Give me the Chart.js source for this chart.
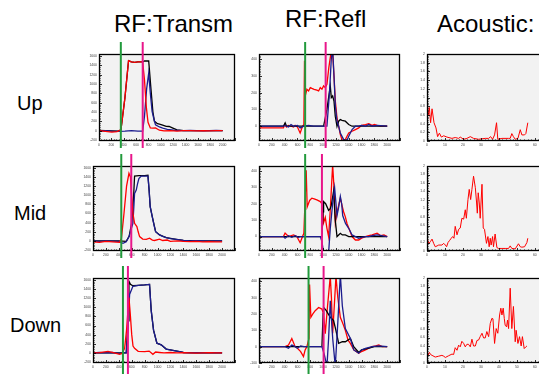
<!DOCTYPE html>
<html>
<head>
<meta charset="utf-8">
<script src="https://cdn.jsdelivr.net/npm/chart.js@4/dist/chart.umd.min.js"></script>
<style>
html,body{margin:0;padding:0;background:#fff;}
body{width:539px;height:374px;overflow:hidden;position:relative;font-family:"Liberation Sans",Arial,sans-serif;}
.t{position:absolute;white-space:nowrap;color:#000;line-height:24px;font-size:24px;}
.r{position:absolute;white-space:nowrap;color:#000;line-height:20px;font-size:20px;}
canvas{position:absolute;}
</style>
</head>
<body>
<div class="t" style="left:114px;top:12px;">RF:Transm</div>
<div class="t" style="left:285px;top:7px;">RF:Refl</div>
<div class="t" style="left:437px;top:12px;">Acoustic:</div>
<div class="r" style="left:17px;top:93px;">Up</div>
<div class="r" style="left:14px;top:203px;">Mid</div>
<div class="r" style="left:10px;top:315px;">Down</div>
<script>
// ---------- tick labels ----------
const rfXTicks = [0,200,400,600,800,1000,1200,1400,1600,1800,2000];
const transYTicks = [-200,0,200,400,600,800,1000,1200,1400,1600];
const reflYTicks = [-100,0,100,200,300,400];
const acXTicks = [0,10,20,30,40,50,60];
const acYTicks = [0,0.2,0.4,0.6,0.8,1,1.2,1.4,1.6,1.8,2];

// ---------- RF:Transm, Up ----------
const tUpRedX = [0,102,208,292,355,419,478,524,577,629,706,735,766,793,830,870,914,977,1051,1156,1262,1367,1473,1578,1684,1789,1894,2000];
const tUpRedY = [0,-15,-30,-20,20,700,1495,1470,1460,1470,1470,1100,500,180,60,57,60,10,-5,0,-10,0,0,-5,0,-5,0,0];
const tUpBlkX = [0,102,313,355,419,478,524,577,629,706,735,804,840,872,897,946,978,1030,1087,1135,1195,1262,1367,1578,1789,2000];
const tUpBlkY = [5,0,-10,20,700,1495,1470,1460,1470,1470,1490,1490,900,400,200,150,142,120,93,90,57,20,0,0,0,0];
const tUpNavX = [0,102,208,313,419,524,629,706,735,771,804,830,859,888,914,977,1032,1104,1209,1367,1473,1578,1684,1789,1894,2000];
const tUpNavY = [-15,0,-10,-15,-10,0,-10,-10,300,900,1231,800,413,250,128,80,57,30,10,0,5,0,-5,0,5,0];
// ---------- RF:Transm, Mid ----------
const tMidRedX = [0,100,200,300,412,440,480,520,557,580,593,619,644,680,700,722,770,825,876,920,954,1030,1080,1150,1200,1300,1400,1500,1600,1700,1800,1900,2000];
const tMidRedY = [-20,-30,-10,-20,-30,50,600,1200,1480,1400,1113,600,385,313,200,95,40,36,60,20,10,40,10,20,-10,0,-10,-15,-10,-20,-15,-20,-20];
const tMidBlkX = [0,200,400,515,560,600,630,644,711,800,851,870,886,918,970,1031,1134,1289,1400,1600,1800,2000];
const tMidBlkY = [0,0,0,-10,100,400,1000,1420,1430,1430,1440,1100,750,530,204,131,73,36,10,0,0,0];
const tMidNavX = [0,100,200,300,400,464,515,560,600,618,635,644,670,690,711,747,800,851,870,886,918,945,970,1031,1080,1134,1200,1289,1400,1500,1600,1700,1800,1900,2000];
const tMidNavY = [0,-10,0,-5,-10,-50,-20,100,300,385,800,1040,1113,1250,1367,1418,1420,1420,1100,750,530,350,204,131,100,73,50,36,10,0,5,0,-5,0,0];
// ---------- RF:Transm, Down ----------
const tDnRedX = [0,100,232,300,412,450,490,520,540,557,575,600,620,644,700,800,870,928,970,1031,1100,1200,1300,1400,1500,1600,1700,1800,1900,2000];
const tDnRedY = [0,5,35,10,-30,-10,100,500,900,1210,900,400,150,100,35,30,40,-30,20,10,0,10,0,5,0,-5,0,5,0,0];
const tDnBlkX = [0,200,400,515,545,557,580,618,700,800,876,902,938,990,1057,1134,1237,1340,1400,1600,1800,2000];
const tDnBlkY = [0,0,0,0,700,1566,1500,1470,1480,1490,1500,925,498,214,178,85,57,30,10,0,0,0];
const tDnNavX = [0,100,200,300,400,490,515,545,567,618,700,800,876,902,938,990,1057,1134,1237,1340,1400,1500,1600,1700,1800,1900,2000];
const tDnNavY = [0,10,0,10,-10,0,0,600,1281,1459,1480,1490,1500,925,498,214,178,85,57,30,10,0,5,0,0,5,0];

// ---------- RF:Refl, Up ----------
const rUpRedX = [0,100,200,300,381,400,430,460,500,540,564,600,642,679,700,710,721,747,773,800,825,860,903,930,956,982,1008,1034,1060,1090,1128,1149,1170,1191,1217,1243,1269,1295,1321,1347,1373,1400,1452,1504,1556,1600,1661,1713,1765,1800,1843,1900,2000];
const rUpRedY = [-10,-10,-10,-10,-10,10,-5,5,0,-5,5,-5,-40,0,10,390,180,220,210,230,225,220,215,210,230,220,240,230,250,350,450,440,300,150,50,0,-50,-80,-90,-80,-60,-40,-30,-20,-10,5,10,15,5,10,5,0,0];
const rUpBlkX = [0,200,381,408,430,600,800,1008,1034,1060,1086,1112,1128,1149,1170,1190,1217,1243,1269,1295,1347,1400,1452,1600,1800,2000];
const rUpBlkY = [0,0,0,20,0,0,0,0,50,100,170,240,170,180,150,60,0,30,40,35,30,10,0,0,0,0];
const rUpNavX = [0,100,200,300,381,407,460,500,540,600,642,700,773,850,930,1008,1060,1100,1128,1149,1170,1191,1217,1243,1269,1321,1373,1400,1452,1504,1556,1600,1661,1713,1765,1843,2000];
const rUpNavY = [0,0,0,0,0,5,-5,10,0,5,-10,0,5,0,0,0,0,200,400,460,300,120,30,0,-40,-80,-85,-60,-20,0,0,5,0,10,0,5,0];
// ---------- RF:Refl, Mid ----------
const rMidRedX = [0,100,200,300,381,407,460,538,590,642,679,700,736,752,790,825,860,903,956,982,1008,1034,1060,1086,1110,1149,1170,1191,1220,1269,1295,1321,1347,1373,1400,1452,1504,1556,1600,1661,1713,1765,1800,1843,1900,1950,2000];
const rMidRedY = [0,0,0,0,0,21,0,10,0,-38,0,20,404,181,220,234,230,223,213,200,85,117,50,0,150,436,300,85,150,234,190,150,120,80,53,0,-21,-21,-10,0,5,10,15,21,5,10,0];
const rMidBlkX = [0,200,400,600,800,982,1000,1008,1040,1086,1112,1128,1164,1190,1217,1243,1269,1300,1347,1400,1600,1800,2000];
const rMidBlkY = [0,0,0,0,0,0,150,213,200,160,170,190,277,100,0,10,20,10,10,0,0,0,0];
const rMidNavX = [0,100,200,300,382,407,460,512,564,616,642,700,773,850,930,956,982,1008,1034,1060,1086,1112,1149,1180,1217,1243,1269,1290,1306,1350,1410,1452,1504,1556,1600,1661,1713,1765,1843,2000];
const rMidNavY = [0,0,0,0,0,-10,5,-5,5,-5,0,0,0,0,0,0,-30,-100,-100,-100,-100,50,200,298,128,180,245,200,128,80,43,10,0,-10,-5,0,0,5,10,0];
// ---------- RF:Refl, Down ----------
const rDnRedX = [0,100,200,300,408,460,512,564,600,650,694,720,747,780,789,809,840,877,930,982,1008,1034,1070,1112,1130,1149,1175,1201,1230,1269,1300,1347,1390,1425,1480,1556,1600,1661,1713,1765,1820,1869,1920,2000];
const rDnRedY = [0,0,0,0,0,10,50,0,-10,-30,-60,-20,0,50,380,180,200,220,240,230,200,80,250,430,300,80,250,430,300,180,150,100,40,20,-20,-40,-30,-20,-10,0,5,10,0,0];
const rDnBlkX = [0,200,400,600,800,982,1000,1008,1050,1112,1164,1200,1243,1300,1347,1426,1478,1556,1600,1700,1800,2000];
const rDnBlkY = [0,0,0,0,0,0,200,240,220,180,160,100,20,30,30,50,0,-36,-20,-10,0,0];
const rDnNavX = [0,100,200,300,408,460,512,564,600,650,700,800,900,982,1020,1060,1086,1112,1150,1190,1230,1269,1300,1347,1426,1478,1556,1600,1661,1765,1869,2000];
const rDnNavY = [0,0,0,0,0,-10,10,0,-10,5,0,0,0,0,-50,-120,50,280,50,-120,150,440,250,110,50,-20,-40,-20,-10,0,5,0];

// ---------- Acoustic ----------
const aUpX = [0,0.6,1.3,2.0,2.8,3.9,5.0,5.9,6.9,8.0,9.3,11.1,13.9,15.7,17.6,18.5,20.4,22.2,24.1,25.9,28.7,32.4,34.3,35.4,36.5,37.6,38.7,39.4,41.7,45.4,46.3,47.2,48.1,49.1,50.6,51.9,52.8,54.3,55.0,56.1];
const aUpY = [1.09,0.58,0.77,0.42,0.74,0.42,0.30,0.10,0.18,0.09,0.12,0.09,0.06,0.08,0.06,0.09,0.04,0.06,0.10,0.06,0.04,0.06,0.06,0.10,0.04,0.14,0.42,0.04,0.06,0.06,0.06,0.17,0.10,0.04,0.06,0.26,0.14,0.14,0.17,0.42];
const aMidX = [0,0.9,1.9,2.8,3.7,4.6,5.6,6.5,8.3,9.3,10.2,10.9,11.7,12.6,13.5,14.3,15.0,15.7,16.7,17.6,18.5,19.4,20.4,21.3,21.9,22.8,23.5,24.3,25.0,25.9,26.9,27.6,28.0,28.5,29.1,29.6,30.6,31.3,32.0,33.1,33.9,34.6,35.2,35.7,36.5,37.0,37.9,38.9,39.8,41.7,43.5,45.4,46.3,47.2,49.1,50.9,51.9,52.8,54.3,55.6,56.1];
const aMidY = [0.34,0.17,0.22,0.28,0.18,0.10,0.12,0.14,0.14,0.18,0.14,0.10,0.20,0.25,0.30,0.34,0.30,0.58,0.38,0.51,0.54,0.77,0.75,0.97,0.77,1.21,1.45,1.21,1.45,1.76,1.49,1.13,0.89,1.37,1.13,0.77,1.57,0.54,0.51,0.18,0.34,0.10,0.30,0.14,0.34,0.10,0.40,0.08,0.06,0.06,0.06,0.06,0.12,0.06,0.05,0.17,0.10,0.09,0.10,0.20,0.30];
const aDnX = [0,0.6,1.3,2.0,2.8,4.6,6.5,8.3,9.3,10.2,12.0,13.9,14.8,15.7,16.7,17.6,18.5,19.4,20.4,21.3,22.2,23.1,24.1,25.0,25.9,26.9,27.8,28.7,29.6,30.6,31.5,32.4,33.3,34.3,35.2,36.1,36.7,37.6,38.5,39.4,40.4,41.1,41.7,42.4,43.0,43.5,44.3,44.8,45.4,46.3,47.2,48.1,49.1,49.6,50.6,51.5,52.4,53.1,54.1,55.0,55.6];
const aDnY = [0.25,0.18,0.25,0.20,0.18,0.14,0.16,0.18,0.16,0.13,0.17,0.21,0.20,0.36,0.30,0.42,0.38,0.51,0.46,0.38,0.44,0.44,0.38,0.56,0.40,0.40,0.53,0.54,0.62,0.70,0.59,0.59,0.74,0.62,0.93,1.05,1.04,0.46,0.81,0.70,1.13,1.29,1.13,1.29,1.05,0.89,0.85,1.01,0.81,1.76,0.81,1.33,0.50,0.77,0.46,0.62,0.40,0.62,0.34,0.38,0.40];

// ---------- marker lines (green, magenta) ----------
const tUpMarks = [353, 707];
const tMidMarks = [438, 593];
const tDnMarks = [464, 541];
const rUpMarks = [720, 1040];
const rMidMarks = [720, 982];
const rDnMarks = [773, 1008];

// ---------- drawing helpers ----------
const RED = '#ff0000', BLK = '#000000', NAV = '#1c1c8e';
const GREEN = '#229a3c', MAG = '#e8168a';
const PL = 20, PR = 6, PT = 14, PB = 12;
const pts = (xs, ys) => xs.map((x, i) => ({x, y: ys[i]}));

const rootStyle = {
  id: 'rootStyle',
  beforeDraw(chart) {
    const {ctx, chartArea: a} = chart;
    ctx.save();
    ctx.fillStyle = '#f2f2f2';
    ctx.fillRect(a.left, a.top, a.right - a.left, a.bottom - a.top);
    ctx.restore();
  },
  afterDatasetsDraw(chart, args, o) {
    const {ctx, chartArea: a, scales: {x, y}} = chart;
    ctx.save();
    ctx.strokeStyle = '#000';
    ctx.lineWidth = 0.8;
    ctx.beginPath();
    const minorX = o.xStep / o.xSub, minorY = o.yStep / o.ySub;
    for (let i = Math.ceil(x.min / minorX); i * minorX <= x.max + 1e-9; i++) {
      const v = i * minorX;
      const px = Math.round(x.getPixelForValue(v)) + 0.5;
      const len = (Math.abs(v / o.xStep - Math.round(v / o.xStep)) < 1e-6) ? 3 : 1.5;
      ctx.moveTo(px, a.bottom); ctx.lineTo(px, a.bottom - len);
    }
    for (let i = Math.ceil(y.min / minorY); i * minorY <= y.max + 1e-9; i++) {
      const v = i * minorY;
      const py = Math.round(y.getPixelForValue(v)) + 0.5;
      const len = (Math.abs(v / o.yStep - Math.round(v / o.yStep)) < 1e-6) ? 3 : 1.5;
      ctx.moveTo(a.left, py); ctx.lineTo(a.left + len, py);
    }
    ctx.stroke();
    ctx.lineWidth = 1.3;
    ctx.strokeRect(a.left + 0.5, a.top + 0.5, a.right - a.left - 1, a.bottom - a.top - 1);
    (o.marks || []).forEach((v, i) => {
      const px = x.getPixelForValue(v);
      ctx.strokeStyle = i === 0 ? GREEN : MAG;
      ctx.lineWidth = 2;
      ctx.beginPath();
      ctx.moveTo(px, a.top - o.up);
      ctx.lineTo(px, a.bottom + o.down);
      ctx.stroke();
    });
    ctx.restore();
  }
};

function panel(frame, sets, sc) {
  const c = document.createElement('canvas');
  const w = frame.r - frame.l + PL + PR, h = frame.b - frame.t + PT + PB;
  c.width = w; c.height = h;
  c.style.left = (frame.l - PL) + 'px';
  c.style.top = (frame.t - PT) + 'px';
  c.style.width = w + 'px'; c.style.height = h + 'px';
  document.body.appendChild(c);
  const tickFont = {family: '"Liberation Sans", Arial, sans-serif', size: 3.4};
  const fmt = v => String(v);
  new Chart(c, {
    type: 'line',
    data: {datasets: sets.map(s => ({
      data: s.d, borderColor: s.c, borderWidth: s.w || 1.3, pointRadius: 0,
      tension: 0, fill: false, clip: 0
    }))},
    options: {
      responsive: false, animation: false, devicePixelRatio: 1,
      layout: {padding: {top: PT, right: PR, left: 0, bottom: 0}},
      plugins: {legend: {display: false}, tooltip: {enabled: false},
        rootStyle: {xStep: sc.xStep, xSub: sc.xSub, yStep: sc.yStep, ySub: sc.ySub,
          marks: sc.marks, up: 12, down: sc.down}},
      scales: {
        x: {type: 'linear', min: sc.xMin, max: sc.xMax,
          grid: {display: false, drawTicks: false, tickLength: 0}, border: {display: false},
          afterBuildTicks: s => { s.ticks = sc.xTicks.filter(v => v >= sc.xMin && v <= sc.xMax).map(v => ({value: v})); },
          afterFit: s => { s.height = PB; },
          ticks: {autoSkip: false, maxRotation: 0, padding: 2, color: '#444', font: tickFont, callback: fmt}},
        y: {type: 'linear', min: sc.yMin, max: sc.yMax,
          grid: {display: false, drawTicks: false, tickLength: 0}, border: {display: false},
          afterBuildTicks: s => { s.ticks = sc.yTicks.filter(v => v >= sc.yMin && v <= sc.yMax).map(v => ({value: v})); },
          afterFit: s => { s.width = PL; },
          ticks: {autoSkip: false, padding: 2, color: '#444', font: tickFont, callback: fmt}}
      }
    },
    plugins: [rootStyle]
  });
}

const rows = [{t: 54, b: 141, down: 7}, {t: 166, b: 251, down: 7}, {t: 278, b: 363, down: 11}];
const colT = {l: 93, r: 235}, colR = {l: 259, r: 400}, colA = {l: 427, r: 542};

const transSc = (marks, down) => ({xMin: 0, xMax: 2200, yMin: -220, yMax: 1640, xTicks: rfXTicks, yTicks: transYTicks,
  xStep: 200, xSub: 5, yStep: 200, ySub: 5, marks, down});
const reflSc = (marks, down, yMin, yMax) => ({xMin: 0, xMax: 2200, yMin, yMax, xTicks: rfXTicks, yTicks: reflYTicks,
  xStep: 200, xSub: 5, yStep: 100, ySub: 10, marks, down});
const acSc = {xMin: 0, xMax: 64, yMin: 0, yMax: 2, xTicks: acXTicks, yTicks: acYTicks,
  xStep: 10, xSub: 5, yStep: 0.2, ySub: 5, marks: [], down: 0};

const F = (col, row, l) => ({l: l || col.l, r: col.r, t: rows[row].t, b: rows[row].b});

// first dataset is painted on top in Chart.js
panel(F(colT, 0, 99), [{d: pts(tUpRedX, tUpRedY), c: RED}, {d: pts(tUpNavX, tUpNavY), c: NAV}, {d: pts(tUpBlkX, tUpBlkY), c: BLK}], transSc(tUpMarks, rows[0].down));
panel(F(colT, 1), [{d: pts(tMidRedX, tMidRedY), c: RED}, {d: pts(tMidNavX, tMidNavY), c: NAV}, {d: pts(tMidBlkX, tMidBlkY), c: BLK}], transSc(tMidMarks, rows[1].down));
panel(F(colT, 2), [{d: pts(tDnRedX, tDnRedY), c: RED}, {d: pts(tDnNavX, tDnNavY), c: NAV}, {d: pts(tDnBlkX, tDnBlkY), c: BLK}], transSc(tDnMarks, rows[2].down));

panel(F(colR, 0), [{d: pts(rUpNavX, rUpNavY), c: NAV}, {d: pts(rUpBlkX, rUpBlkY), c: BLK}, {d: pts(rUpRedX, rUpRedY), c: RED}], reflSc(rUpMarks, rows[0].down, -88, 430));
panel(F(colR, 1), [{d: pts(rMidNavX, rMidNavY), c: NAV}, {d: pts(rMidBlkX, rMidBlkY), c: BLK}, {d: pts(rMidRedX, rMidRedY), c: RED}], reflSc(rMidMarks, rows[1].down, -88, 430));
panel(F(colR, 2), [{d: pts(rDnNavX, rDnNavY), c: NAV}, {d: pts(rDnBlkX, rDnBlkY), c: BLK}, {d: pts(rDnRedX, rDnRedY), c: RED}], reflSc(rDnMarks, rows[2].down, -100, 420));

panel(F(colA, 0), [{d: pts(aUpX, aUpY), c: RED, w: 1}], acSc);
panel(F(colA, 1), [{d: pts(aMidX, aMidY), c: RED, w: 1}], acSc);
panel(F(colA, 2), [{d: pts(aDnX, aDnY), c: RED, w: 1}], acSc);
</script>
</body>
</html>
